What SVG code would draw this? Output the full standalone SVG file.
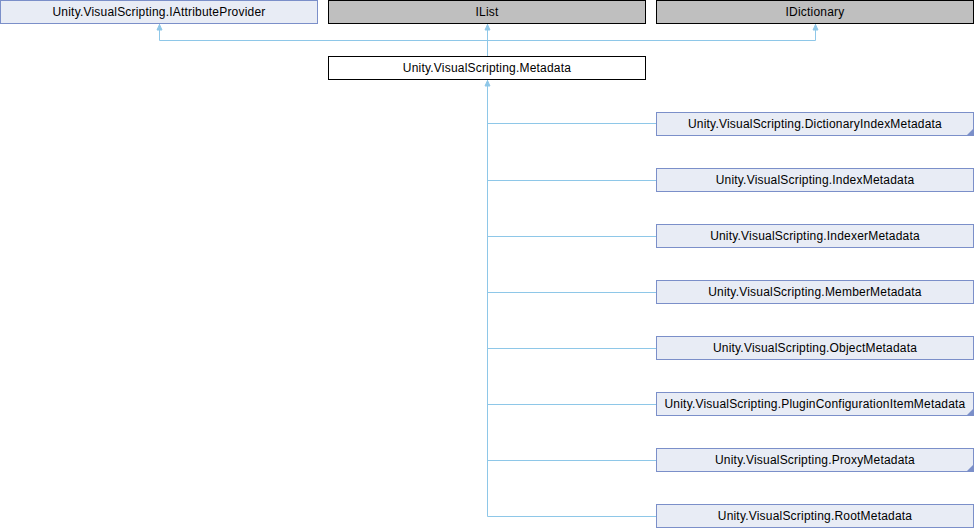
<svg xmlns="http://www.w3.org/2000/svg" width="974" height="528" viewBox="0 0 974 528">
<style>
text{font-family:"Liberation Sans",Arial,sans-serif;font-size:12px;letter-spacing:0.2px;fill:#000;text-anchor:middle}
.iface rect{fill:#e8ecf5;stroke:#7b8fc9;stroke-width:1}
.ext rect{fill:#bfbfbf;stroke:#000;stroke-width:1}
.main rect{fill:#fff;stroke:#000;stroke-width:1}
.child rect{fill:#e8ecf5;stroke:#7b8fc9;stroke-width:1}
.corner{fill:#7b8fc9}
.conn{fill:none;stroke:#8ec7e8;stroke-width:1}
.ah{fill:#8ec7e8;stroke:#8ec7e8;stroke-width:1}
</style>
<g id="connectors">
<path class="conn" d="M487.5,80 V516.5 H656"/>
<path class="conn" d="M487.5,123.5 H656"/>
<path class="conn" d="M487.5,180.5 H656"/>
<path class="conn" d="M487.5,236.5 H656"/>
<path class="conn" d="M487.5,292.5 H656"/>
<path class="conn" d="M487.5,348.5 H656"/>
<path class="conn" d="M487.5,404.5 H656"/>
<path class="conn" d="M487.5,460.5 H656"/>
<path class="conn" d="M487.5,56 V24"/>
<path class="conn" d="M159.5,24 V40.5 H815.5 V24"/>
<path class="ah" d="M487.5,80.5 L490,86 L485,86 Z"/>
<path class="ah" d="M487.5,24.5 L490,30 L485,30 Z"/>
<path class="ah" d="M159.5,24.5 L162,30 L157,30 Z"/>
<path class="ah" d="M815.5,24.5 L818,30 L813,30 Z"/>
</g>
<g id="IAttributeProvider" class="iface"><rect x="0.5" y="0.5" width="317" height="23"/><text x="159" y="16">Unity.VisualScripting.IAttributeProvider</text></g>
<g id="IList" class="ext"><rect x="328.5" y="0.5" width="317" height="23"/><text x="487" y="16">IList</text></g>
<g id="IDictionary" class="ext"><rect x="656.5" y="0.5" width="317" height="23"/><text x="815" y="16">IDictionary</text></g>
<g id="Metadata" class="main"><rect x="328.5" y="56.5" width="317" height="23"/><text x="487" y="72">Unity.VisualScripting.Metadata</text></g>
<g id="DictionaryIndexMetadata" class="child"><rect x="656.5" y="112.5" width="317" height="23"/><path class="corner" d="M973,129 V135 H967 Z"/><text x="815" y="128">Unity.VisualScripting.DictionaryIndexMetadata</text></g>
<g id="IndexMetadata" class="child"><rect x="656.5" y="168.5" width="317" height="23"/><text x="815" y="184">Unity.VisualScripting.IndexMetadata</text></g>
<g id="IndexerMetadata" class="child"><rect x="656.5" y="224.5" width="317" height="23"/><text x="815" y="240">Unity.VisualScripting.IndexerMetadata</text></g>
<g id="MemberMetadata" class="child"><rect x="656.5" y="280.5" width="317" height="23"/><text x="815" y="296">Unity.VisualScripting.MemberMetadata</text></g>
<g id="ObjectMetadata" class="child"><rect x="656.5" y="336.5" width="317" height="23"/><text x="815" y="352">Unity.VisualScripting.ObjectMetadata</text></g>
<g id="PluginConfigurationItemMetadata" class="child"><rect x="656.5" y="392.5" width="317" height="23"/><path class="corner" d="M973,409 V415 H967 Z"/><text x="815" y="408">Unity.VisualScripting.PluginConfigurationItemMetadata</text></g>
<g id="ProxyMetadata" class="child"><rect x="656.5" y="448.5" width="317" height="23"/><path class="corner" d="M973,465 V471 H967 Z"/><text x="815" y="464">Unity.VisualScripting.ProxyMetadata</text></g>
<g id="RootMetadata" class="child"><rect x="656.5" y="504.5" width="317" height="23"/><text x="815" y="520">Unity.VisualScripting.RootMetadata</text></g>
</svg>
